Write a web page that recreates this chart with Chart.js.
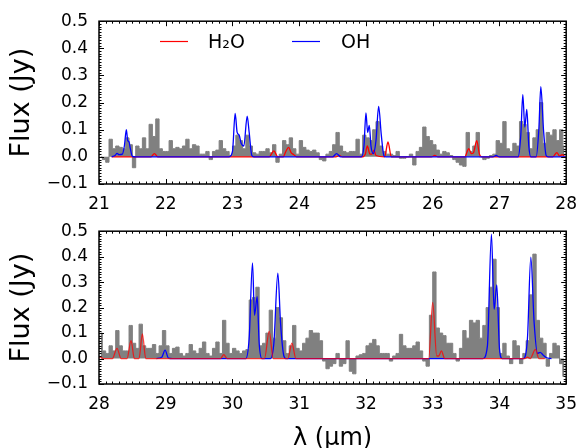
<!DOCTYPE html>
<html>
<head>
<meta charset="utf-8">
<script src="https://cdn.jsdelivr.net/npm/chart.js@4.4.1/dist/chart.umd.min.js"></script>
<style>
  html, body { margin: 0; padding: 0; background: #fff; }
  #wrap { position: relative; width: 587px; height: 448px; }
  canvas { position: absolute; left: 0; }
  #topChart { top: 0; }
  #botChart { top: 210px; }
</style>
</head>
<body>
<div id="wrap">
  <canvas id="topChart" width="587" height="214"></canvas>
  <canvas id="botChart" width="587" height="238"></canvas>
</div>
<script>
// observed spectrum, 0.05 um bins (first bin centre + step)
const topStart = 21.025;
const botStart = 28.025;
const binStep = 0.05;

const fluxTop = [
  0.0, -0.01, -0.02, 0.065, 0.03, 0.04, 0.035, 0.03, 0.07, 0.045, -0.04, 0.04, 0.03, 0.07, 0.03, 0.12, 0.075, 0.14, 0.03, 0.02,
  0.02, 0.06, 0.03, 0.035, 0.03, 0.04, 0.065, 0.03, 0.045, 0.04, 0.01, 0.01, 0.02, -0.01, 0.02, 0.025, 0.06, 0.03, 0.02, 0.005,
  0.04, 0.08, 0.06, 0.03, 0.08, 0.04, 0.015, 0.01, 0.02, 0.02, 0.03, 0.015, 0.045, -0.02, 0.01, 0.06, 0.045, 0.07, 0.03, 0.01,
  0.06, 0.035, 0.025, 0.02, 0.025, 0.015, -0.01, -0.015, 0.01, 0.02, 0.045, 0.09, 0.04, 0.02, 0.015, 0.02, 0.02, 0.065, 0.01, 0.08,
  0.07, 0.06, 0.10, 0.13, 0.04, 0.02, 0.01, 0.01, 0.005, 0.02, -0.005, -0.005, 0.0, 0.01, -0.03, 0.02, 0.035, 0.11, 0.075, 0.06,
  0.045, 0.025, 0.01, 0.02, 0.015, 0.005, -0.01, -0.02, -0.03, -0.035, 0.09, 0.02, 0.04, 0.09, 0.0, -0.01, -0.005, 0.005, 0.01, 0.06,
  0.05, 0.13, 0.03, 0.02, 0.05, 0.04, 0.13, 0.12, 0.09, 0.03, 0.07, 0.10, 0.20, 0.05, 0.09, 0.08, 0.10, 0.06, 0.10, 0.04
];

const fluxBot = [
  0.10, 0.03, 0.02, 0.05, 0.03, 0.11, 0.05, 0.03, 0.03, 0.13, 0.06, 0.04, 0.135, 0.05, 0.04, 0.04, 0.055, 0.02, 0.05, 0.11,
  0.05, 0.02, 0.04, 0.045, 0.02, 0.01, 0.02, 0.055, 0.03, 0.02, 0.04, 0.065, 0.02, 0.01, 0.04, 0.065, 0.02, 0.15, 0.06, 0.02,
  0.04, 0.03, 0.02, 0.03, 0.035, 0.23, 0.24, 0.28, 0.05, 0.06, 0.10, 0.19, 0.08, 0.20, 0.16, 0.07, 0.02, 0.05, 0.13, 0.04,
  0.03, 0.06, 0.08, 0.11, 0.10, 0.10, 0.07, -0.01, -0.04, -0.03, -0.02, 0.02, -0.03, -0.02, 0.07, -0.05, -0.06, 0.01, 0.015, 0.02,
  0.05, 0.06, 0.075, 0.05, 0.02, 0.02, 0.02, -0.01, 0.01, 0.02, 0.095, 0.05, 0.04, 0.04, 0.05, 0.065, 0.03, -0.01, -0.03, 0.17,
  0.34, 0.12, 0.10, 0.09, 0.06, 0.06, 0.02, -0.01, 0.04, 0.11, 0.08, 0.15, 0.14, 0.15, 0.08, 0.13, 0.20, 0.28, 0.39, 0.20,
  0.02, 0.06, 0.01, -0.02, 0.07, 0.05, -0.02, 0.02, 0.07, 0.25, 0.41, 0.15, 0.08, 0.06, -0.03, 0.02, 0.06, 0.05, -0.02, -0.07
];

// OH model, top panel
const ohTopX = [21.19, 21.24, 21.27, 21.30, 21.35, 21.38, 21.41, 21.43, 21.45, 21.47, 21.50, 21.55,
  22.95, 23.00, 23.04, 23.07, 23.10, 23.13, 23.17, 23.22, 23.25, 23.29, 23.32,
  24.50, 24.56, 24.62,
  24.93, 24.97, 25.00, 25.025, 25.05, 25.075, 25.11, 25.15, 25.19, 25.23, 25.27, 25.30,
  26.90, 26.95, 27.00,
  27.28, 27.32, 27.35, 27.38, 27.41, 27.44, 27.47,
  27.55, 27.59, 27.62, 27.66, 27.70, 27.73, 28.0];
const ohTopY = [0, 0.005, 0.013, 0.008, 0.01, 0.04, 0.10, 0.06, 0.055, 0.03, 0.002, 0,
  0, 0.02, 0.16, 0.09, 0.08, 0.05, 0.04, 0.15, 0.09, 0.005, 0,
  0, 0.012, 0,
  0, 0.04, 0.162, 0.09, 0.116, 0.04, 0.012, 0.06, 0.186, 0.08, 0.003, 0,
  0, 0.005, 0,
  0, 0.08, 0.229, 0.11, 0.175, 0.04, 0,
  0, 0.10, 0.259, 0.10, 0.005, 0, 0];

// H2O model, top panel
const h2oTopX = [21.19, 21.78, 21.83, 21.88,
  23.55, 23.62, 23.68,
  23.76, 23.80, 23.84, 23.88, 23.92, 23.96,
  24.55, 24.60, 24.65,
  24.94, 24.99, 25.02, 25.06, 25.09, 25.12, 25.15, 25.28, 25.33, 25.38,
  25.98, 26.03, 26.08,
  26.48, 26.54, 26.58, 26.61, 26.66, 26.70, 26.74,
  27.80, 27.86, 27.90, 27.94, 27.98];
const h2oTopY = [0, 0, 0.012, 0,
  0, 0.022, 0,
  0, 0.02, 0.035, 0.015, 0.008, 0,
  0, 0.005, 0,
  0, 0.01, 0.04, 0.01, 0.01, 0.025, 0.005, 0, 0.055, 0,
  0, 0.005, 0,
  0, 0.03, 0.012, 0.015, 0.06, 0.01, 0,
  0, 0.016, 0.003, 0.008, 0];

// OH model, bottom panel
const ohBotX = [28.86, 28.94, 28.99, 29.04, 29.10,
  30.20, 30.25, 30.30, 30.33, 30.37, 30.40, 30.44,
  30.57, 30.62, 30.68, 30.72, 30.77, 30.80,
  33.75, 33.82, 33.88, 33.92, 33.96, 34.00, 34.04,
  34.36, 34.42, 34.47, 34.52, 34.57, 34.61, 34.65, 34.70, 34.78];
const ohBotY = [0, 0.005, 0.033, 0.002, 0,
  0, 0.08, 0.376, 0.17, 0.243, 0.06, 0,
  0, 0.06, 0.335, 0.14, 0.01, 0,
  0, 0.05, 0.488, 0.193, 0.289, 0.04, 0,
  0, 0.08, 0.398, 0.14, 0.02, 0.024, 0.015, 0.004, 0];

// H2O model, bottom panel
const h2oBotX = [27.98, 28.02, 28.06, 28.20, 28.27, 28.33, 28.42, 28.48, 28.53, 28.60, 28.65, 28.70,
  29.82, 29.87, 29.92,
  30.48, 30.55, 30.61,
  30.83, 30.89, 30.95,
  32.94, 33.00, 33.06, 33.09, 33.13, 33.18,
  34.38, 34.42, 34.46, 34.54, 34.59, 34.68];
const h2oBotY = [0, 0.006, 0, 0, 0.04, 0, 0, 0.07, 0, 0, 0.097, 0,
  0, 0.015, 0,
  0, 0.108, 0,
  0, 0.06, 0,
  0, 0.22, 0.01, 0.01, 0.03, 0,
  0, 0.005, 0, 0.036, 0, 0];

const legendLabels = ["H\u2082O", "OH"];
const fontFam = "'DejaVu Sans', sans-serif";

function pts(xs, ys) {
  return xs.map((x, i) => ({ x: x, y: ys[i] }));
}
function bins(start, vals) {
  return vals.map((v, i) => ({ x: start + i * binStep, y: v }));
}

// frame + inward ticks on all four sides
const frameTicks = {
  id: "frameTicks",
  afterDraw(chart) {
    const ctx = chart.ctx;
    const a = chart.chartArea;
    const xs = chart.scales.x, ys = chart.scales.y;
    ctx.save();
    ctx.strokeStyle = "#000";
    ctx.lineWidth = 1;
    ctx.beginPath();
    for (let k = Math.round(xs.min * 10); k <= Math.round(xs.max * 10); k++) {
      const px = Math.round(xs.getPixelForValue(k / 10)) + 0.5;
      const len = k % 10 === 0 ? 5 : 2.5;
      ctx.moveTo(px, a.bottom); ctx.lineTo(px, a.bottom - len);
      ctx.moveTo(px, a.top); ctx.lineTo(px, a.top + len);
    }
    for (let k = -10; k <= 50; k++) {
      const py = Math.round(ys.getPixelForValue(k / 100)) + 0.5;
      const len = k % 10 === 0 ? 5 : 2.5;
      ctx.moveTo(a.left, py); ctx.lineTo(a.left + len, py);
      ctx.moveTo(a.right, py); ctx.lineTo(a.right - len, py);
    }
    ctx.stroke();
    ctx.lineWidth = 1.5;
    ctx.strokeRect(a.left, a.top, a.right - a.left, a.bottom - a.top);
    ctx.restore();
  }
};

const legendDraw = {
  id: "legendDraw",
  afterDraw(chart) {
    const ctx = chart.ctx;
    ctx.save();
    ctx.lineWidth = 1.2;
    ctx.strokeStyle = "rgb(255,0,0)";
    ctx.beginPath(); ctx.moveTo(160, 41.5); ctx.lineTo(188, 41.5); ctx.stroke();
    ctx.strokeStyle = "rgb(0,0,255)";
    ctx.beginPath(); ctx.moveTo(292, 41.5); ctx.lineTo(320, 41.5); ctx.stroke();
    ctx.fillStyle = "#000";
    ctx.font = "19px " + fontFam;
    ctx.textBaseline = "middle";
    ctx.fillText(legendLabels[0], 208, 43);
    ctx.fillText(legendLabels[1], 341, 43);
    ctx.restore();
  }
};

function fmtTick(v) {
  if (Math.abs(v) < 1e-9) return "0.0";
  return v.toFixed(1).replace("-", "\u2212");
}

function makeChart(id, xmin, xmax, flux, start, ohX, ohY, h2oX, h2oY, canvasH, padTop, plotBottom, showTitle, h2oOnTop) {
  const ctx = document.getElementById(id).getContext("2d");
  const xHeight = canvasH - plotBottom;
  return new Chart(ctx, {
    type: "line",
    data: {
      datasets: [
        {
          data: bins(start, flux),
          stepped: "middle",
          fill: "origin",
          backgroundColor: "rgb(128,128,128)",
          borderColor: "rgb(128,128,128)",
          borderWidth: 1,
          pointRadius: 0,
          order: 3
        },
        {
          data: pts(ohX, ohY),
          borderColor: "rgb(0,0,255)",
          borderWidth: 1.3,
          pointRadius: 0,
          cubicInterpolationMode: "monotone",
          fill: false,
          order: h2oOnTop ? 2 : 1
        },
        {
          data: pts(h2oX, h2oY),
          borderColor: h2oOnTop ? "rgba(255,0,0,0.75)" : "rgb(255,0,0)",
          borderWidth: 1.3,
          pointRadius: 0,
          cubicInterpolationMode: "monotone",
          fill: false,
          order: h2oOnTop ? 1 : 2
        }
      ]
    },
    options: {
      responsive: false,
      animation: false,
      layout: { padding: { left: 0, right: 14, top: padTop, bottom: 0 } },
      plugins: { legend: { display: false }, tooltip: { enabled: false } },
      scales: {
        x: {
          type: "linear",
          min: xmin, max: xmax,
          grid: { display: false, drawTicks: false },
          border: { display: false },
          ticks: { stepSize: 1, padding: 10, color: "#000", font: { family: fontFam, size: 17 } },
          title: {
            display: showTitle,
            text: "\u03bb (\u03bcm)",
            color: "#000",
            font: { family: fontFam, size: 24, lineHeight: 0.8 },
            padding: { top: 0, bottom: 0 }
          },
          afterFit(scale) { scale.height = xHeight; }
        },
        y: {
          min: -0.1, max: 0.5,
          grid: { display: false, drawTicks: false },
          border: { display: false },
          ticks: {
            stepSize: 0.1, padding: 11, color: "#000",
            font: { family: fontFam, size: 17 },
            callback: fmtTick
          },
          title: {
            display: true,
            text: "Flux (Jy)",
            color: "#000",
            font: { family: fontFam, size: 27, lineHeight: 1.2 },
            padding: { top: 6, bottom: 0 }
          },
          afterFit(scale) { scale.width = 99; }
        }
      }
    },
    plugins: id === "topChart" ? [frameTicks, legendDraw] : [frameTicks]
  });
}

makeChart("topChart", 21, 28, fluxTop, topStart, ohTopX, ohTopY, h2oTopX, h2oTopY, 214, 19, 184, false, false);
makeChart("botChart", 28, 35, fluxBot, botStart, ohBotX, ohBotY, h2oBotX, h2oBotY, 238, 10, 174, true, true);
</script>
</body>
</html>
